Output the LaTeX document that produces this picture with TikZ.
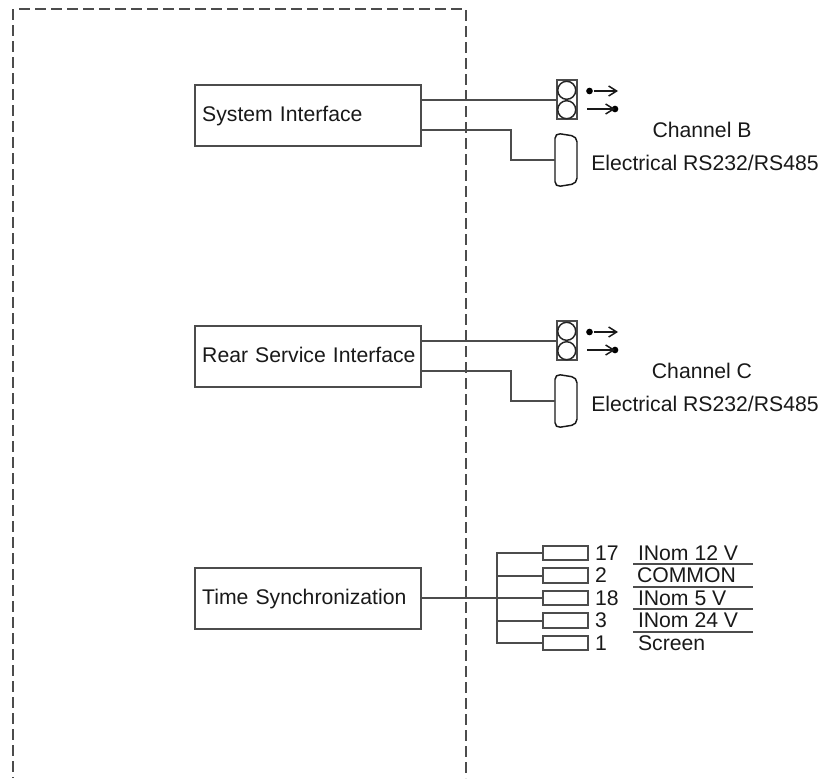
\documentclass[tikz,border=0pt]{standalone}
\usepackage{fontspec}
\setmainfont{Liberation Sans}
\usetikzlibrary{arrows.meta}

\begin{document}
\begin{tikzpicture}[x=0.75pt,y=-0.75pt,line width=1.5pt,color=black!70,>={Straight Barb[length=6pt,width=7.5pt]},
  lbl/.style={inner sep=0pt,text=black!90,font=\fontsize{15.9}{18}\selectfont},
  unit/.style={draw,lbl,minimum height=45.75pt,inner xsep=5.4pt,text width=158.7pt,align=left,anchor=west,text height=11.5pt,text depth=1.5pt},
  pin/.style={draw,minimum width=33.75pt,minimum height=10.8pt,inner sep=0pt,anchor=west},
  term/.style={draw,minimum width=15pt,minimum height=29.25pt,inner sep=0pt},
  dot/.style={circle,fill=black,inner sep=0pt,minimum size=5pt},
  ring/.style={circle,draw=black!85,line width=1.1pt,inner sep=0pt,minimum size=13.5pt},
  fine/.style={draw=black!90,line width=1.1pt}]
  \useasboundingbox (0,0) rectangle (823,778);
  % frame
  \draw[dashed,dash pattern=on 8.25pt off 3.75pt] (13,9) -- (13,778);
  \draw[dashed,dash pattern=on 8.25pt off 3.75pt] (19,9) -- (466,9);
  \draw[dashed,dash pattern=on 8.25pt off 3.75pt] (466,10) -- (466,778);
  % interfaces
  \node[unit] (sys) at (194,115) {System Interface};
  \node[unit] (rear) at (194,356) {\mbox{Rear Service Interface}};
  \node[unit] (time) at (194,598) {Time Synchronization};
  % channel B
  \node[term] (tb) at (567,99.5) {};
  \node[ring] at (566.7,90.3) {};
  \node[ring] at (566.7,109.7) {};
  \draw (sys.east |- tb) -- (tb);
  \node[dot] (b1) at (589.5,91) {};
  \coordinate (b2) at (618,91);
  \draw[->,fine] (b1) -- (b2);
  \coordinate (b3) at (587,109);
  \node[dot] (b4) at (615,109) {};
  \draw[->,fine] (b3) -- (b4.center);
  \coordinate (db) at (555,160);
  \draw[rounded corners=4pt,fine] (db |- 0,133) -- (577,136.5) -- (577,183.5) -- (555,187) -- cycle;
  \coordinate (sb) at (sys.east |- 0,130);
  \draw (sb) -- (511,130) -- (511,160) -- (db);
  \node[lbl] at (702,130) {Channel B};
  \node[lbl] at (705,163) {Electrical RS232/RS485};
  % channel C
  \node[term] (tc) at (567,340.5) {};
  \node[ring] at (566.7,331.3) {};
  \node[ring] at (566.7,350.7) {};
  \draw (rear.east |- tc) -- (tc);
  \node[dot] (c1) at (589.5,332) {};
  \coordinate (c2) at (618,332);
  \draw[->,fine] (c1) -- (c2);
  \coordinate (c3) at (587,350);
  \node[dot] (c4) at (615,350) {};
  \draw[->,fine] (c3) -- (c4.center);
  \coordinate (dc) at (555,401);
  \draw[rounded corners=4pt,fine] (dc |- 0,374) -- (577,377.5) -- (577,424.5) -- (555,428) -- cycle;
  \coordinate (sc) at (rear.east |- 0,371);
  \draw (sc) -- (511,371) -- (511,401) -- (dc);
  \node[lbl] at (702,371) {Channel C};
  \node[lbl] at (705,404) {Electrical RS232/RS485};
  % time sync pins
  \node[pin] (p1) at (541.5,553) {};
  \node[pin] (p2) at (541.5,575.5) {};
  \node[pin] (p3) at (541.5,598) {};
  \node[pin] (p4) at (541.5,620.5) {};
  \node[pin] (p5) at (541.5,643) {};
  \coordinate (bus) at (496.5,598);
  \draw (time.east |- p3) -- (p3);
  \draw (p1) -- (bus |- p1) -- (bus |- p5) -- (p5);
  \draw (p2) -- (bus |- p2);
  \draw (p4) -- (bus |- p4);
  \node[lbl,anchor=west] at (594,553) {17};
  \node[lbl,anchor=west] at (594,575.5) {2};
  \node[lbl,anchor=west] at (594,598) {18};
  \node[lbl,anchor=west] at (594,620.5) {3};
  \node[lbl,anchor=west] at (594,643) {1};
  \node[lbl,anchor=west] at (637,553) {INom 12 V};
  \node[lbl,anchor=west] at (636,575.5) {COMMON};
  \node[lbl,anchor=west] at (637,598) {INom 5 V};
  \node[lbl,anchor=west] at (637,620.5) {INom 24 V};
  \node[lbl,anchor=west] at (637,643) {Screen};
  \draw (633,564) -- (753,564);
  \draw (633,587) -- (753,587);
  \draw (633,609) -- (753,609);
  \draw (633,632) -- (753,632);
\end{tikzpicture}
\end{document}
